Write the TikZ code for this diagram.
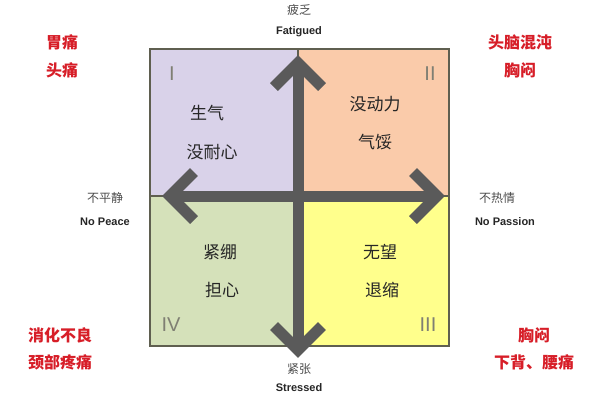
\documentclass[tikz,border=0pt]{standalone}
\usepackage{fontspec}
\setmainfont{Liberation Sans}
\newfontfamily\cjk{Noto Sans CJK SC}
\definecolor{qp}{RGB}{217,210,233}
\definecolor{qo}{RGB}{250,203,170}
\definecolor{qg}{RGB}{213,225,186}
\definecolor{qy}{RGB}{255,255,140}
\definecolor{edge}{RGB}{95,95,80}
\definecolor{arr}{RGB}{90,90,90}
\definecolor{rd}{RGB}{215,30,40}
\begin{document}
\begin{tikzpicture}[x=1pt,y=-1pt,
  quad/.style={draw=edge,line width=1.2pt},
  mid/.style={font=\cjk\fontsize{17}{17}\selectfont,text=black!85},
  num/.style={font=\fontsize{20}{20}\selectfont,text=edge!80},
  red/.style={font=\cjk\bfseries\fontsize{16}{16}\selectfont,text=rd},
  zh/.style={font=\cjk\fontsize{12}{12}\selectfont,text=black!70},
  en/.style={font=\bfseries\fontsize{11}{11}\selectfont,text=black!85},
  shaft/.style={draw=arr,line width=11pt},
  head/.style={draw=arr,line width=11pt,miter limit=3}]
\useasboundingbox (0,0) rectangle (600,400);
\fill[white] (0,0) rectangle (600,400);
\fill[qp,quad] (150,49) rectangle (298,196);
\fill[qo,quad] (298,49) rectangle (449,196);
\fill[qg,quad] (150,196) rectangle (298,346);
\fill[qy,quad] (298,196) rectangle (449,346);
\coordinate (c) at (298,196);
\coordinate (t) at (298,63);
\coordinate (b) at (298,350);
\coordinate (l) at (170,196);
\coordinate (r) at (437,196);
\draw[shaft] (t) -- (b);
\draw[shaft] (l) -- (r);
\draw[head] ([xshift=-24pt,yshift=-24pt]t) -- (t) -- ([xshift=24pt,yshift=-24pt]t);
\draw[head] ([xshift=-24pt,yshift=24pt]b) -- (b) -- ([xshift=24pt,yshift=24pt]b);
\draw[head] ([xshift=24pt,yshift=-24pt]l) -- (l) -- ([xshift=24pt,yshift=24pt]l);
\draw[head] ([xshift=-24pt,yshift=-24pt]r) -- (r) -- ([xshift=-24pt,yshift=24pt]r);
\node[num] (n1) at (172,74) {I};
\node[num] (n2) at (430,74) {II};
\node[num] (n4) at (171,325) {IV};
\node[num] (n3) at (428,325) {III};
\node[mid] (a1) at (207,113) {生气};
\node[mid] (a2) at (212,152) {没耐心};
\node[mid] (b1) at (375,104) {没动力};
\node[mid] (b2) at (375,142) {气馁};
\node[mid] (c1) at (220,252) {紧绷};
\node[mid] (c2) at (222,290) {担心};
\node[mid] (d1) at (380,252) {无望};
\node[mid] (d2) at (382,290) {退缩};
\node[red] (r1) at (62,42) {胃痛};
\node[red] (r2) at (62,70) {头痛};
\node[red] (r3) at (520,42) {头脑混沌};
\node[red] (r4) at (520,70) {胸闷};
\node[red] (r5) at (60,335) {消化不良};
\node[red] (r6) at (60,362) {颈部疼痛};
\node[red] (r7) at (534,335) {胸闷};
\node[red] (r8) at (534,362) {下背、腰痛};
\node[zh] (z1) at (299,10) {疲乏};
\node[en] (e1) at (299,32) {Fatigued};
\node[zh] (z2) at (105,198) {不平静};
\node[en] (e2) at (105,222) {No Peace};
\node[zh] (z3) at (497,198) {不热情};
\node[en] (e3) at (505,222) {No Passion};
\node[zh] (z4) at (299,369) {紧张};
\node[en] (e4) at (299,388) {Stressed};
\end{tikzpicture}
\end{document}
